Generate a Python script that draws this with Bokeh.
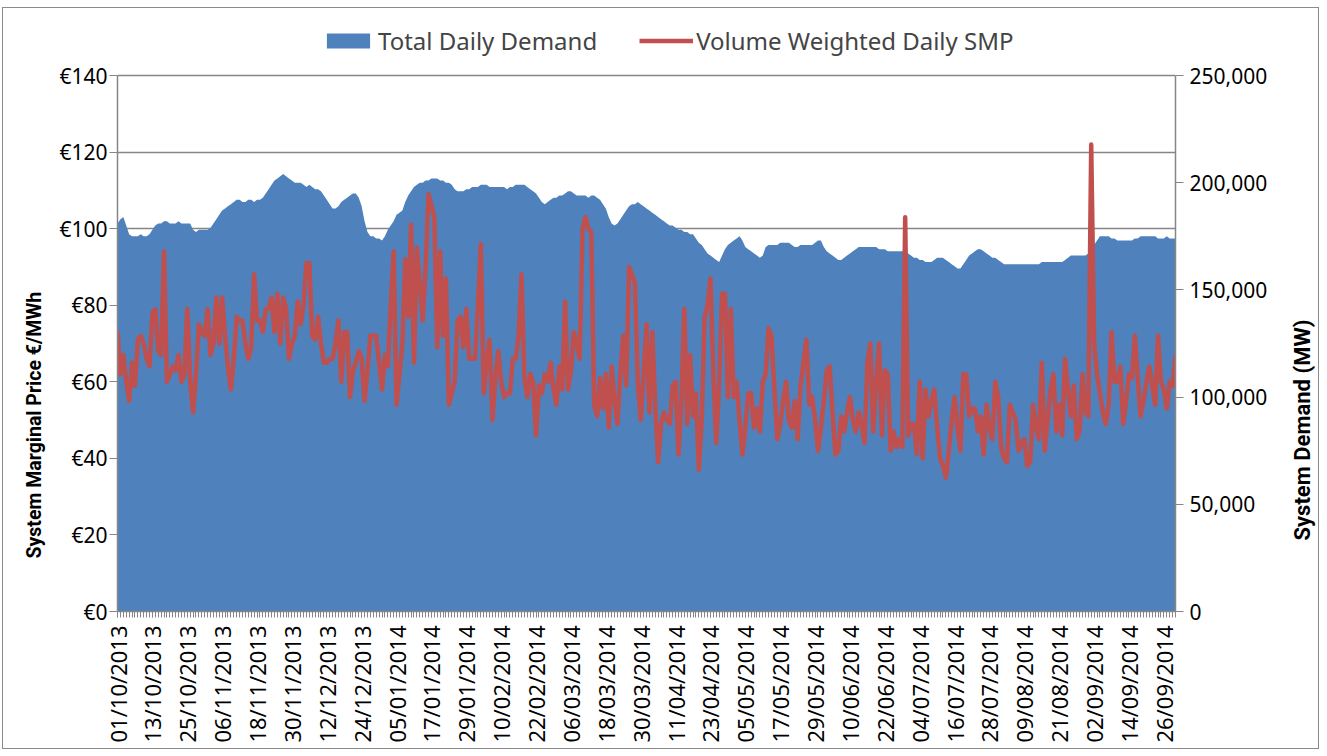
import math
from bokeh.plotting import figure
from bokeh.layouts import row
from bokeh.core.properties import value
from bokeh.models import (Range1d, LinearAxis, FixedTicker, NumeralTickFormatter,
                          Legend, LegendItem, ColumnDataSource, Grid, Title)
from bokeh.embed import file_html
from bokeh.resources import INLINE

# Volume weighted daily SMP (EUR/MWh), 01/10/2013 .. 30/09/2014
smp = [
    73, 62, 67, 60, 55, 65, 59, 71, 72, 70,
    66, 64, 78, 79, 68, 67, 94, 60, 62, 64,
    63, 67, 60, 62, 79, 60, 52, 62, 75, 73,
    72, 79, 67, 70, 82, 70, 82, 72, 64, 58,
    66, 77, 76, 76, 70, 66, 69, 88, 76, 76,
    73, 79, 79, 82, 73, 83, 70, 82, 79, 66,
    70, 72, 81, 75, 80, 91, 91, 72, 71, 77,
    70, 65, 65, 66, 66, 70, 76, 60, 73, 73,
    56, 63, 65, 68, 66, 55, 63, 72, 72, 72,
    65, 58, 67, 64, 80, 94, 54, 62, 70, 92,
    77, 101, 65, 95, 86, 76, 90, 109, 106, 103,
    69, 94, 72, 87, 54, 57, 60, 76, 77, 69,
    79, 66, 66, 66, 80, 96, 57, 65, 71, 50,
    61, 68, 60, 56, 57, 57, 66, 66, 72, 88,
    61, 56, 62, 60, 46, 59, 57, 62, 60, 65,
    58, 54, 64, 58, 81, 58, 63, 73, 70, 66,
    100, 103, 100, 99, 54, 51, 61, 53, 62, 48,
    64, 55, 49, 62, 72, 59, 90, 88, 86, 60,
    50, 62, 75, 52, 73, 54, 39, 49, 52, 50,
    49, 59, 60, 41, 55, 79, 49, 67, 51, 57,
    37, 50, 77, 80, 87, 62, 44, 60, 83, 83,
    56, 79, 56, 60, 50, 41, 48, 57, 57, 48,
    53, 47, 60, 62, 74, 72, 58, 45, 49, 55,
    60, 50, 48, 55, 45, 59, 65, 71, 54, 56,
    50, 42, 48, 55, 63, 64, 52, 41, 42, 51,
    47, 52, 56, 50, 47, 52, 49, 44, 65, 70,
    47, 60, 70, 46, 63, 62, 42, 47, 43, 45,
    43, 103, 46, 49, 49, 41, 60, 40, 58, 51,
    55, 58, 48, 40, 38, 35, 42, 50, 56, 48,
    42, 62, 62, 51, 53, 53, 47, 51, 41, 54,
    48, 45, 60, 56, 43, 40, 39, 54, 52, 50,
    42, 44, 45, 38, 39, 54, 48, 45, 65, 42,
    50, 58, 62, 47, 54, 46, 66, 58, 51, 59,
    45, 47, 62, 52, 51, 122, 70, 62, 57, 52,
    49, 54, 73, 60, 60, 64, 49, 55, 62, 61,
    72, 61, 51, 55, 60, 64, 59, 54, 72, 60,
    58, 53, 60, 59, 67,
]

# Total daily demand (MW)
demand = [
    181000, 183000, 184000, 180000, 176000, 175000, 175000, 175000, 176000, 175000,
    175000, 176000, 178000, 180000, 181000, 181000, 182000, 182000, 181000, 181000,
    181000, 182000, 181000, 181000, 181000, 181000, 178000, 177000, 178000, 178000,
    178000, 178000, 179000, 181000, 183000, 185000, 187000, 188000, 189000, 190000,
    191000, 192000, 192000, 191000, 191000, 192000, 192000, 191000, 192000, 192000,
    193000, 195000, 197000, 199000, 201000, 202000, 203000, 204000, 203000, 202000,
    201000, 200000, 200000, 200000, 199000, 198000, 199000, 198000, 197000, 197000,
    196000, 194000, 192000, 190000, 188000, 188000, 189000, 191000, 192000, 193000,
    194000, 195000, 195000, 193000, 189000, 182000, 177000, 175000, 175000, 174000,
    174000, 173000, 175000, 178000, 180000, 182000, 185000, 186000, 187000, 191000,
    194000, 196000, 198000, 199000, 200000, 200000, 201000, 201000, 202000, 202000,
    202000, 201000, 201000, 200000, 200000, 199000, 197000, 196000, 196000, 196000,
    197000, 197000, 198000, 198000, 198000, 199000, 199000, 199000, 198000, 198000,
    198000, 198000, 198000, 198000, 197000, 198000, 198000, 199000, 199000, 199000,
    199000, 198000, 197000, 196000, 195000, 193000, 191000, 190000, 191000, 192000,
    193000, 193000, 194000, 194000, 195000, 196000, 196000, 195000, 194000, 194000,
    194000, 194000, 193000, 194000, 194000, 193000, 192000, 190000, 188000, 184000,
    181000, 180000, 181000, 183000, 185000, 187000, 189000, 190000, 190000, 191000,
    190000, 189000, 188000, 187000, 186000, 185000, 184000, 183000, 182000, 181000,
    180000, 180000, 179000, 178000, 178000, 177000, 177000, 176000, 176000, 174000,
    172000, 171000, 169000, 167000, 166000, 165000, 164000, 163000, 166000, 169000,
    171000, 172000, 173000, 174000, 175000, 173000, 170000, 169000, 168000, 167000,
    166000, 165000, 166000, 170000, 171000, 171000, 171000, 171000, 172000, 172000,
    172000, 172000, 171000, 170000, 170000, 171000, 171000, 171000, 171000, 171000,
    172000, 173000, 173000, 170000, 168000, 167000, 166000, 165000, 164000, 164000,
    165000, 166000, 167000, 168000, 169000, 170000, 170000, 170000, 170000, 170000,
    170000, 170000, 169000, 169000, 169000, 168000, 168000, 168000, 168000, 168000,
    168000, 168000, 167000, 166000, 165000, 165000, 164000, 164000, 163000, 163000,
    163000, 164000, 165000, 165000, 165000, 164000, 163000, 162000, 161000, 160000,
    160000, 162000, 164000, 166000, 167000, 168000, 169000, 169000, 168000, 167000,
    166000, 165000, 165000, 164000, 163000, 162000, 162000, 162000, 162000, 162000,
    162000, 162000, 162000, 162000, 162000, 162000, 162000, 162000, 163000, 163000,
    163000, 163000, 163000, 163000, 163000, 163000, 164000, 165000, 166000, 166000,
    166000, 166000, 166000, 166000, 167000, 169000, 171000, 173000, 175000, 175000,
    175000, 175000, 174000, 174000, 173000, 173000, 173000, 173000, 173000, 173000,
    174000, 174000, 175000, 175000, 175000, 175000, 175000, 175000, 174000, 174000,
    174000, 175000, 174000, 174000, 174000,
]

tick_labels = [
    "01/10/2013", "13/10/2013", "25/10/2013", "06/11/2013", "18/11/2013",
    "30/11/2013", "12/12/2013", "24/12/2013", "05/01/2014", "17/01/2014",
    "29/01/2014", "10/02/2014", "22/02/2014", "06/03/2014", "18/03/2014",
    "30/03/2014", "11/04/2014", "23/04/2014", "05/05/2014", "17/05/2014",
    "29/05/2014", "10/06/2014", "22/06/2014", "04/07/2014", "16/07/2014",
    "28/07/2014", "09/08/2014", "21/08/2014", "02/09/2014", "14/09/2014",
    "26/09/2014",
]
price_ticks = [0, 20, 40, 60, 80, 100, 120, 140]
price_labels = ["€0", "€20", "€40", "€60", "€80", "€100", "€120", "€140"]
demand_ticks = [0, 50000, 100000, 150000, 200000, 250000]
price_max = 140
demand_max = 250000

day = list(range(len(smp)))
tick_pos = [i * 12 for i in range(len(tick_labels))]

src = ColumnDataSource(dict(day=day, smp=smp, demand=demand))

GREY = "#868686"
FONT = "Noto Sans"
LABEL_FONT = "Roboto"

# plot area 536px tall for the axes, plus 54px headroom above it for the legend
AXIS_H = 536
FRAME_H = 590
head = FRAME_H / AXIS_H
BORDER_TOP, BORDER_BOTTOM = 13, 137
TOTAL_H = BORDER_TOP + FRAME_H + BORDER_BOTTOM

p = figure(frame_width=1058, frame_height=FRAME_H, output_backend="svg",
           toolbar_location=None,
           x_range=Range1d(0, len(day) - 1), y_range=Range1d(0, price_max * head),
           x_axis_type=None, y_axis_type=None,
           min_border_left=114, min_border_right=115, min_border_top=BORDER_TOP,
           min_border_bottom=BORDER_BOTTOM)
p.extra_y_ranges = {"demand": Range1d(0, demand_max * head)}
p.outline_line_color = None
p.background_fill_color = "white"

p.add_layout(Grid(dimension=1, ticker=FixedTicker(ticks=price_ticks),
                  grid_line_color=GREY, grid_line_width=1.5))

area = p.varea(x="day", y1=0, y2="demand", source=src, y_range_name="demand",
               fill_color="#4F81BD")
line = p.line(x="day", y="smp", source=src, line_color="#C0504D", line_width=4.5,
              line_join="round")

def style_axis(ax, size="21px"):
    ax.axis_line_color = GREY
    ax.axis_line_width = 1.5
    ax.major_tick_line_color = GREY
    ax.minor_tick_line_color = GREY
    ax.major_label_text_font = FONT
    ax.major_label_text_font_size = size
    ax.major_label_text_color = "black"

yl = LinearAxis(ticker=FixedTicker(ticks=price_ticks),
                major_label_overrides=dict(zip(price_ticks, price_labels)),
                bounds=(0, price_max))
style_axis(yl)
yl.major_tick_out = 8
yl.major_tick_in = 0
yl.minor_tick_out = 0
yl.major_label_standoff = 2
p.add_layout(yl, "left")

left_title = Title(text="System Marginal  Price €/MWh", align="left", offset=53,
                   text_font=LABEL_FONT, text_font_size="19.5px",
                   text_font_style="bold", text_color="black", standoff=22)
p.add_layout(left_title, "left")

yr = LinearAxis(y_range_name="demand", ticker=FixedTicker(ticks=demand_ticks),
                formatter=NumeralTickFormatter(format="0,0"),
                bounds=(0, demand_max))
style_axis(yr)
yr.major_tick_out = 8
yr.major_tick_in = 0
yr.minor_tick_out = 0
yr.major_label_standoff = 6
p.add_layout(yr, "right")

xa = LinearAxis(ticker=FixedTicker(ticks=tick_pos, minor_ticks=day),
                major_label_overrides=dict(zip(tick_pos, tick_labels)),
                major_label_orientation=math.pi / 2)
style_axis(xa, "22px")
xa.major_tick_out = 6
xa.major_tick_in = 0
xa.minor_tick_out = 6
xa.minor_tick_in = 0
xa.major_label_standoff = 8
p.add_layout(xa, "below")

legend = Legend(items=[LegendItem(label="Total Daily Demand", renderers=[area]),
                       LegendItem(label="Volume Weighted Daily SMP", renderers=[line])],
                orientation="horizontal", location=(199, 549),
                label_text_font=FONT, label_text_font_size="24px",
                glyph_width=54, glyph_height=19, spacing=42, label_standoff=3,
                padding=5, margin=0, border_line_alpha=0,
                background_fill_alpha=0)
p.add_layout(legend, "center")

# narrow strip holding the right-hand axis title (reads bottom to top, like the original);
# its frame is aligned with the main plot's frame, so y is measured in px from the frame bottom
STRIP_W = 28
q = figure(width=STRIP_W, height=TOTAL_H, output_backend="svg", toolbar_location=None,
           x_range=Range1d(0, STRIP_W), y_range=Range1d(0, FRAME_H),
           x_axis_type=None, y_axis_type=None, min_border=0)
q.outline_line_color = None
q.xgrid.visible = False
q.ygrid.visible = False
q.text(x=[12], y=[71], text=["System Demand (MW)"], angle=math.pi / 2,
       text_align="left", text_baseline="middle", text_font=value(LABEL_FONT),
       text_font_style="bold", text_font_size="22px", text_color="black")

layout = row(p, q, spacing=0,
             styles={"border": "1px solid #8a8a8a", "margin-left": "2px",
                     "margin-top": "7px"})

open("out.html", "w").write(file_html(layout, INLINE))
